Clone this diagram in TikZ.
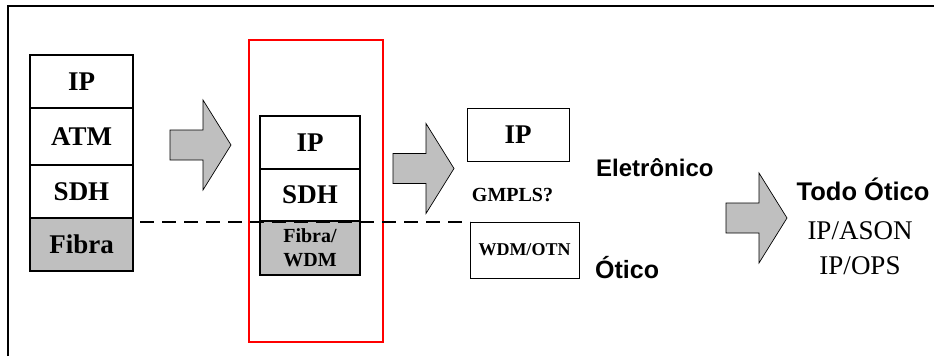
\documentclass[tikz,border=0pt]{standalone}
\usepackage{fontspec}
\setmainfont{Liberation Serif}
\setsansfont{Liberation Sans}
\usetikzlibrary{positioning}

\tikzset{
  layer/.style={draw, line width=1.2pt, outer sep=0pt, inner sep=0pt,
    minimum width=103pt, minimum height=53pt,
    font=\fontsize{27}{29}\selectfont\bfseries},
  fiber/.style={layer, fill=gray!50, line width=2.4pt},
  plainbox/.style={draw, line width=0.8pt, outer sep=0pt, inner sep=0pt},
  sanslabel/.style={font=\sffamily\bfseries\fontsize{24}{26}\selectfont, inner sep=0pt},
  blockarrow/.style={draw, fill=gray!50, line width=0.7pt, line join=miter}
}
% block arrow: tail at (#1,#2), body 33 long, head 28 long
\newcommand{\blockarrow}[2]{%
  \draw[blockarrow, shift={(#1,#2)}] (0,-15) -- (33,-15) -- (33,-45) -- (61,0)
    -- (33,45) -- (33,15) -- (0,15) -- cycle;}

\begin{document}
\begin{tikzpicture}[x=1pt,y=-1pt]
  \useasboundingbox (0,0) rectangle (934,356);
  % frame (only top and left edges show)
  \draw[line width=1.5pt] (8,356) -- (8,6) -- (934,6);

  % legacy stack
  \node[layer] (ip1) at (81.5,81.5) {IP};
  \node[layer, minimum height=57pt, below=0pt of ip1] (atm1) {ATM};
  \node[layer, below=0pt of atm1] (sdh1) {SDH};
  \node[fiber, below=0pt of sdh1] (fib1) {Fibra};

  \blockarrow{170}{145}

  % current stack, highlighted
  \draw[red, line width=2pt] (249,40) rectangle (383,342);
  \node[layer, minimum width=100pt] (ip2) at (310,142.5) {IP};
  \node[layer, minimum width=100pt, minimum height=52pt, below=0pt of ip2] (sdh2) {SDH};
  \node[fiber, minimum width=100pt, minimum height=54pt, below=0pt of sdh2,
    align=center, font=\fontsize{20}{24}\selectfont\bfseries] (fib2) {Fibra/\\WDM};

  \blockarrow{393}{168.5}

  % IP over GMPLS
  \node[plainbox, minimum width=102pt, minimum height=53pt,
    font=\fontsize{27}{29}\selectfont\bfseries] (ip3) at (518,134.5) {IP};
  \node[font=\fontsize{20}{22}\selectfont\bfseries] (gmpls) at (512.5,195) {GMPLS?};
  \node[plainbox, minimum width=109pt, minimum height=56pt,
    font=\fontsize{18}{20}\selectfont\bfseries] (wdm) at (524.5,250) {WDM/OTN};
  \node[sanslabel, anchor=west] (elet) at (596,168) {Eletrônico};
  \node[sanslabel, anchor=west, font=\sffamily\bfseries\fontsize{25}{27}\selectfont] (otico) at (595,268) {Ótico};

  % optical / electronic boundary
  \draw[dashed, dash pattern=on 14pt off 8pt, line width=1.2pt]
    ([xshift=7pt]fib1.east |- wdm.north) -- (wdm.north west);

  \blockarrow{726}{218}

  % all-optical
  \node[font=\sffamily\bfseries\fontsize{25.5}{27}\selectfont] (todo) at (863,189) {Todo Ótico};
  \node[font=\fontsize{27}{30}\selectfont] (ason) at (860,231) {IP/ASON};
  \node[font=\fontsize{27}{30}\selectfont] (ops) at (860,266) {IP/OPS};
\end{tikzpicture}
\end{document}
